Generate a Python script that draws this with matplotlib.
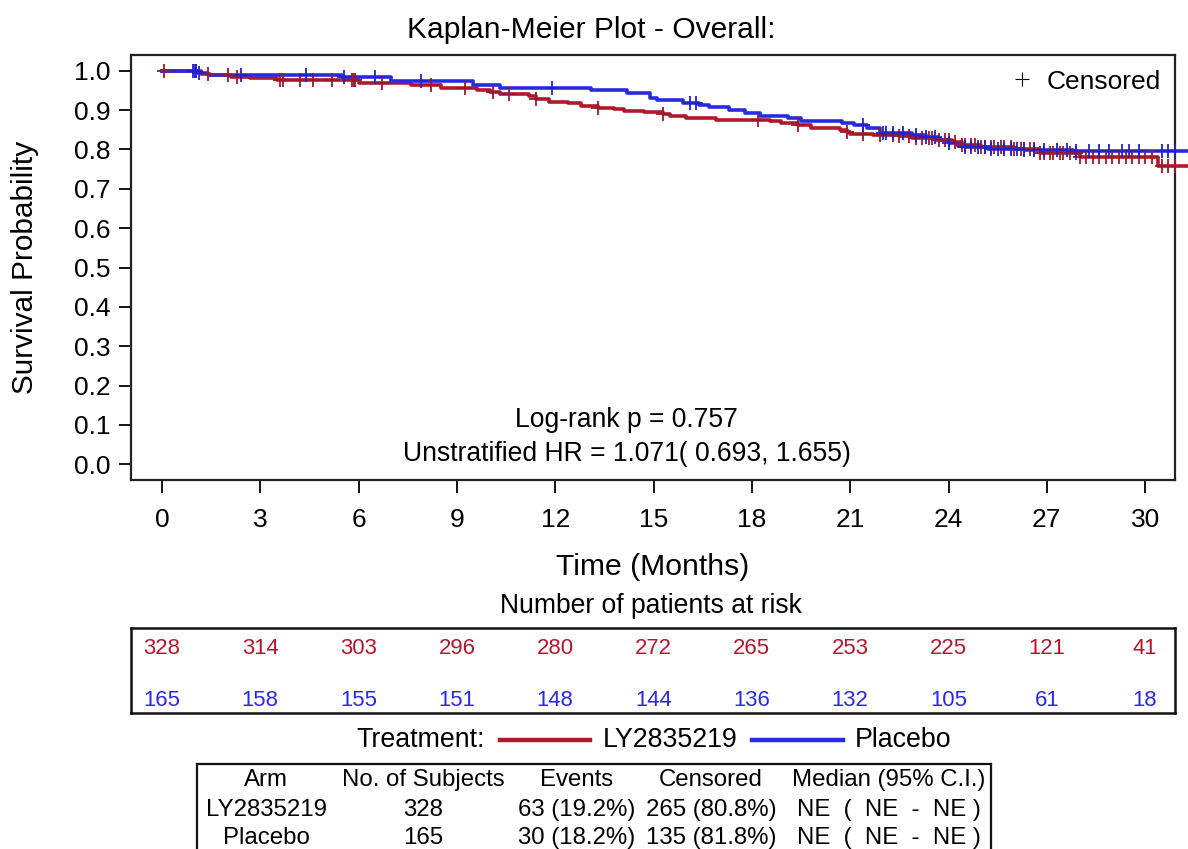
import numpy as np
import matplotlib
matplotlib.use("Agg")
import matplotlib.pyplot as plt
from matplotlib.lines import Line2D

plt.rcParams['font.family'] = ['Liberation Sans', 'DejaVu Sans']

# ---- data ----
arm_names = ["LY2835219", "Placebo"]
arm_colors = ["#B0182C", "#2A2AE0"]
mark_colors = ["#9A1A2E", "#2323C8"]

# Kaplan-Meier step points (time in months, survival after the step)
ly_t = [0, 1.2, 1.45, 2.1, 2.7, 3.5, 6.0, 7.6, 8.5, 9.6, 10.0, 10.3, 11.2, 11.4,
        11.8, 12.4, 12.8, 13.3, 13.8, 14.1, 14.7, 15.3, 15.5, 16.0, 16.9, 18.55,
        18.9, 19.4, 19.8, 20.7, 20.9, 21.0, 21.7, 22.5, 22.9, 23.6, 24.1, 24.4,
        25.0, 26.0, 26.8, 28.0, 30.4, 31.4]
ly_s = [1.0, 0.992, 0.988, 0.985, 0.981, 0.977, 0.970, 0.964, 0.957, 0.952, 0.947,
        0.941, 0.936, 0.928, 0.921, 0.917, 0.911, 0.906, 0.902, 0.898, 0.894, 0.889,
        0.885, 0.880, 0.876, 0.872, 0.867, 0.861, 0.855, 0.850, 0.845, 0.840, 0.836,
        0.833, 0.829, 0.825, 0.819, 0.812, 0.807, 0.801, 0.792, 0.782, 0.757, 0.757]

pl_t = [0, 1.1, 1.4, 5.5, 7.0, 9.5, 10.3, 13.1, 14.2, 14.9, 15.1, 15.9, 16.4, 16.7,
        17.3, 17.8, 18.25, 19.1, 19.5, 20.75, 21.1, 21.5, 21.9, 22.9, 23.3, 23.7,
        24.0, 24.3, 24.5, 25.2, 26.3, 27.8, 31.4]
pl_s = [1.0, 0.994, 0.990, 0.983, 0.973, 0.964, 0.956, 0.950, 0.943, 0.932, 0.926,
        0.919, 0.913, 0.907, 0.901, 0.892, 0.885, 0.880, 0.873, 0.867, 0.861, 0.854,
        0.843, 0.837, 0.831, 0.824, 0.817, 0.810, 0.806, 0.801, 0.799, 0.797, 0.797]

ly_cens = [0.05, 1.05, 1.4, 2.0, 2.3, 3.6, 3.7, 4.2, 4.6, 5.2, 5.8, 5.85, 5.9, 6.7,
           8.2, 9.25, 10.1, 10.6, 11.4, 13.3, 15.3, 18.2, 19.4, 20.9, 21.4, 21.9,
           22.3, 22.5, 22.8, 23.0, 23.2, 23.4, 23.5, 23.7, 23.9, 24.0, 24.2, 24.4,
           24.5, 24.7, 24.8, 25.0, 25.1, 25.3, 25.4, 25.6, 25.7, 25.9, 26.0, 26.2,
           26.3, 26.5, 26.6, 26.8, 26.9, 27.1, 27.2, 27.4, 27.5, 27.7, 27.9, 28.0,
           28.2, 28.4, 28.6, 28.8, 29.0, 29.2, 29.4, 29.6, 29.8, 30.0, 30.2, 30.5,
           30.7, 30.9]
pl_cens = [0.95, 1.0, 1.05, 1.13, 2.4, 4.4, 5.55, 6.5, 7.9, 11.9, 16.1, 16.3, 21.4,
           22.0, 22.1, 22.3, 22.6, 23.0, 23.3, 23.6, 24.0, 24.5, 24.7, 24.9, 25.1,
           25.3, 25.5, 25.7, 25.9, 26.1, 26.3, 26.6, 26.9, 27.3, 27.6, 27.9, 28.3,
           28.6, 28.9, 29.3, 29.5, 29.8, 30.5, 30.7, 30.9]

risk_times = [0, 3, 6, 9, 12, 15, 18, 21, 24, 27, 30]
ly_risk = [328, 314, 303, 296, 280, 272, 265, 253, 225, 121, 41]
pl_risk = [165, 158, 155, 151, 148, 144, 136, 132, 105, 61, 18]

table_header = ["Arm", "No. of Subjects", "Events", "Censored", "Median (95% C.I.)"]
table_rows = [["LY2835219", "328", "63 (19.2%)", "265 (80.8%)", "NE  (  NE  -  NE )"],
              ["Placebo", "165", "30 (18.2%)", "135 (81.8%)", "NE  (  NE  -  NE )"]]

W, H = 1188, 849
fig = plt.figure(figsize=(W / 100, H / 100), dpi=100)

def fx(px):
    return px / W

def fy(py):
    return 1 - py / H

# ---- main KM axes ----
ax = fig.add_axes([fx(131), fy(480), fx(1175) - fx(131), fy(55) - fy(480)])
curves = [(ly_t, ly_s, ly_cens), (pl_t, pl_s, pl_cens)]
for i, (t, s, c) in enumerate(curves):
    ax.plot(t, s, drawstyle='steps-post', color=arm_colors[i], lw=2.6,
            clip_on=False, zorder=3)
for i, (t, s, c) in enumerate(curves):
    idx = np.searchsorted(np.array(t), np.array(c), side='right') - 1
    ax.plot(c, np.array(s)[idx], ls='none', marker='+', ms=10, mew=1.3,
            color=mark_colors[i], zorder=4)

ax.set_xlim(-0.946, 30.91)
ax.set_ylim(-0.04, 1.04)
ax.set_xticks(risk_times)
ax.set_yticks(np.round(np.arange(0, 1.01, 0.1), 1))
ax.set_yticklabels([f"{v:.1f}" for v in np.arange(0, 1.01, 0.1)])
ax.tick_params(labelsize=19, length=9, width=1.3, pad=6)
ax.tick_params(axis='x', pad=11)
for sp in ax.spines.values():
    sp.set_linewidth(1.6)
    sp.set_color('#222222')

ax.set_xlabel("Time (Months)", fontsize=21.7, va='center')
ax.xaxis.set_label_coords(0.5, -(567 - 480) / 425)
ax.set_ylabel("Survival Probability", fontsize=21.4, va='center')
ax.yaxis.set_label_coords((25 - 131) / 1044, 0.5)

ax.text(0.475, (480 - 420) / 425, "Log-rank p = 0.757", transform=ax.transAxes,
        ha='center', va='center', fontsize=19.1)
ax.text(0.475, (480 - 454) / 425, "Unstratified HR = 1.071( 0.693, 1.655)",
        transform=ax.transAxes, ha='center', va='center', fontsize=19.1)

cens_handle = Line2D([], [], ls='none', marker='+', ms=10, mew=0.8, color='k')
ax.legend([cens_handle], ["Censored"], loc='upper right', frameon=False,
          fontsize=19, handletextpad=0.3, borderaxespad=0.15, handlelength=1.2)

fig.text(fx(591), fy(30), "Kaplan-Meier Plot - Overall:", ha='center', va='center',
         fontsize=21.6)
fig.text(fx(651), fy(606), "Number of patients at risk", ha='center', va='center',
         fontsize=19.1)

# ---- number at risk box ----
rax = fig.add_axes([fx(131), fy(713), fx(1175) - fx(131), fy(628) - fy(713)])
rax.set_xlim(ax.get_xlim())
rax.set_ylim(0, 1)
rax.set_xticks([])
rax.set_yticks([])
for sp in rax.spines.values():
    sp.set_linewidth(1.8)
    sp.set_color('#111111')
for tt, n1, n2 in zip(risk_times, ly_risk, pl_risk):
    rax.text(tt, (713 - 648) / 85, str(n1), ha='center', va='center',
             fontsize=15.9, color=arm_colors[0])
    rax.text(tt, (713 - 700) / 85, str(n2), ha='center', va='center',
             fontsize=15.9, color=arm_colors[1])

# ---- treatment legend ----
fig.text(fx(485), fy(740), "Treatment:", ha='right', va='center', fontsize=19.3)
fig.add_artist(Line2D([fx(500), fx(590)], [fy(740), fy(740)], color=arm_colors[0],
                      lw=3.2, transform=fig.transFigure))
fig.text(fx(603), fy(740), arm_names[0], ha='left', va='center', fontsize=19.3)
fig.add_artist(Line2D([fx(752), fx(843)], [fy(740), fy(740)], color=arm_colors[1],
                      lw=3.2, transform=fig.transFigure))
fig.text(fx(855), fy(740), arm_names[1], ha='left', va='center', fontsize=19.3)

# ---- summary table ----
tax = fig.add_axes([fx(197), fy(870), fx(991) - fx(197), fy(764) - fy(870)])
tax.set_xticks([])
tax.set_yticks([])
for sp in tax.spines.values():
    sp.set_linewidth(1.6)
    sp.set_color('#111111')
col_x = [266, 423, 577, 711, 889]
row_y = [780, 810, 838]
for j, h in enumerate(table_header):
    fig.text(fx(col_x[j]), fy(row_y[0]), h, ha='center', va='center', fontsize=17.3)
for r, row in enumerate(table_rows):
    for j, v in enumerate(row):
        fig.text(fx(col_x[j]), fy(row_y[r + 1]), v, ha='center', va='center',
                 fontsize=17.3)

fig.savefig("out.png", dpi=100)
